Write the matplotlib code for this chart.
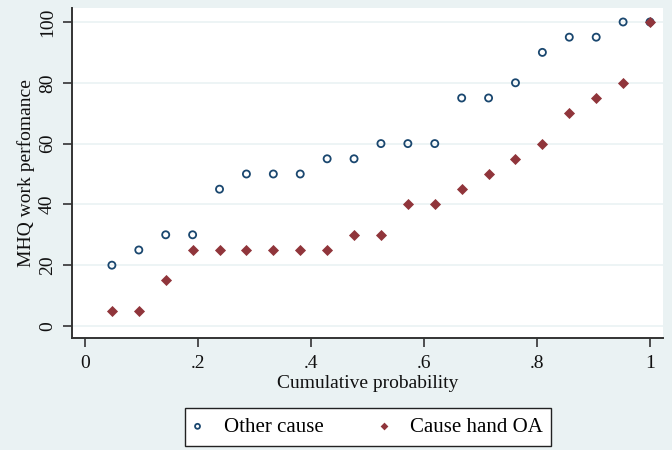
import matplotlib
matplotlib.use("Agg")
import matplotlib.pyplot as plt
import numpy as np

cum_prob = [i / 21 for i in range(1, 22)]
other_cause = [20, 25, 30, 30, 45, 50, 50, 50, 55, 55, 60, 60, 60, 75, 75, 80, 90, 95, 95, 100, 100]
hand_oa = [5, 5, 15, 25, 25, 25, 25, 25, 25, 30, 30, 40, 40, 45, 50, 55, 60, 70, 75, 80, 100]
x_ticks = [0, 0.2, 0.4, 0.6, 0.8, 1.0]
x_tick_labels = ["0", ".2", ".4", ".6", ".8", "1"]
y_ticks = [0, 20, 40, 60, 80, 100]

plt.rcParams['font.family'] = ['Liberation Serif', 'DejaVu Serif']

bg = '#EAF2F3'
fig = plt.figure(figsize=(6.72, 4.5), dpi=100, facecolor=bg)
ax = fig.add_axes([72/672, 112/450, 591/672, 330/450])
ax.set_facecolor('white')

for y in y_ticks:
    ax.axhline(y, color=bg, lw=1.2, zorder=0)

ax.scatter(cum_prob, other_cause, s=26, marker='o', facecolors='none',
           edgecolors='#1a476f', linewidths=1.3, label='Other cause', zorder=3)
ax.scatter(cum_prob, hand_oa, s=32, marker='D', color='#90353b',
           linewidths=0, label='Cause hand OA', zorder=3)

ax.set_xlim(-0.023, 1.023)
ax.set_ylim(-3.95, 104.6)
ax.set_xticks(x_ticks)
ax.set_xticklabels(x_tick_labels)
ax.set_yticks(y_ticks)
ax.set_yticklabels([str(v) for v in y_ticks], rotation=90, va='center')
ax.tick_params(axis='both', direction='out', length=6.5, width=1.2, color='#333333',
               labelsize=14, labelcolor='#111111')
ax.tick_params(axis='y', pad=5)
ax.tick_params(axis='x', pad=6)
for s in ['top', 'right']:
    ax.spines[s].set_visible(False)
for s in ['left', 'bottom']:
    ax.spines[s].set_linewidth(1.4)
    ax.spines[s].set_color('#333333')

ax.set_xlabel('Cumulative probability', fontsize=14, labelpad=2, color='#111111')
ax.set_ylabel('MHQ work perfomance', fontsize=14, labelpad=3, color='#111111')

leg = fig.legend(loc='center', bbox_to_anchor=(368/672, 1 - 427/450), ncol=2,
                 fontsize=15, frameon=True, fancybox=False, edgecolor='#222222',
                 facecolor='white', framealpha=1, columnspacing=2.7,
                 handlelength=0.4, handletextpad=1.05, borderpad=0.42,
                 borderaxespad=0, markerscale=0.7)
leg.get_frame().set_linewidth(1.0)

fig.savefig('out.png', dpi=100, facecolor=bg)
